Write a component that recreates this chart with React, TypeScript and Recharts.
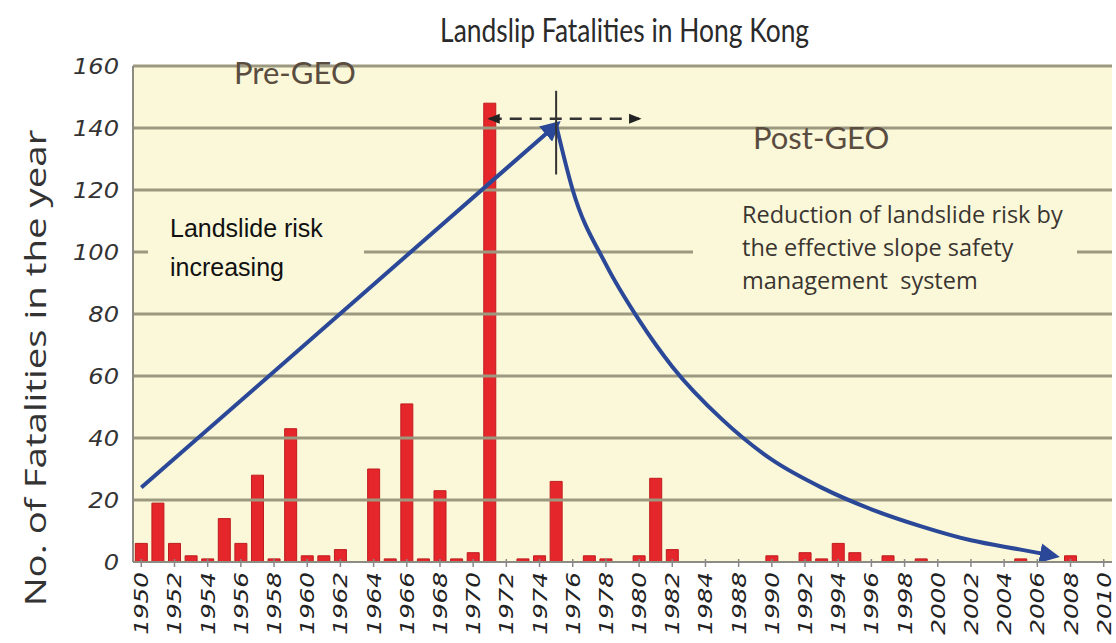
import React from "react";
import {
  ComposedChart,
  Bar,
  Line,
  XAxis,
  YAxis,
  ReferenceLine,
} from "recharts";

// x categories as printed on the original axis (one slot between 1984 and 1988)
const years = [
  "1950", "1951", "1952", "1953", "1954", "1955", "1956", "1957", "1958", "1959",
  "1960", "1961", "1962", "1963", "1964", "1965", "1966", "1967", "1968", "1969",
  "1970", "1971", "1972", "1973", "1974", "1975", "1976", "1977", "1978", "1979",
  "1980", "1981", "1982", "1983", "1984", "1986", "1988", "1989", "1990", "1991",
  "1992", "1993", "1994", "1995", "1996", "1997", "1998", "1999", "2000", "2001",
  "2002", "2003", "2004", "2005", "2006", "2007", "2008", "2009", "2010",
];

const fatalities = [
  6, 19, 6, 2, 1, 14, 6, 28, 1, 43,
  2, 2, 4, 0, 30, 1, 51, 1, 23, 1,
  3, 148, 0, 1, 2, 26, 0, 2, 1, 0,
  2, 27, 4, 0, 0, 0, 0, 0, 2, 0,
  3, 1, 6, 3, 0, 2, 0, 1, 0, 0,
  0, 0, 0, 1, 0, 0, 2, 0, 0,
];

// hand-read points of the two blue arrows
const riseYears = ["1950", "1975"];
const riseValues = [24, 141];
const fallYears = ["1975", "1976", "1978", "1980", "1982", "1986", "1990", "1993", "1996", "1999", "2002", "2005", "2007"];
const fallValues = [141, 120, 96, 78, 63, 46, 33, 24, 17, 11.5, 7, 4, 2];

const yTicks = [0, 20, 40, 60, 80, 100, 120, 140, 160];

const data = years.map((year, i) => {
  const r = riseYears.indexOf(year);
  const f = fallYears.indexOf(year);
  return {
    year,
    deaths: fatalities[i],
    rise: r >= 0 ? riseValues[r] : null,
    fall: f >= 0 ? fallValues[f] : null,
  };
});

const PLOT_BG = "#fbf8d9";
const GRID = "#9c9980";
const BLUE = "#2a4897";

const YearTick = (props: any) => {
  const { x, y, payload } = props;
  return (
    <g>
      <line x1={x} x2={x} y1={y - 11} y2={y - 3} stroke="#888" strokeWidth={1.5} />
      <text
        transform={`translate(${x + 7}, ${y + 2}) rotate(-90) scale(1.3, 1)`}
        textAnchor="end"
        fill="#222"
        fontSize={19}
        fontStyle="italic"
        fontFamily="DejaVu Sans, sans-serif"
      >
        {payload.value}
      </text>
    </g>
  );
};

const ValueTick = (props: any) => {
  const { x, y, payload } = props;
  return (
    <text
      transform={`translate(${x}, ${y + 8}) scale(1.15, 1)`}
      textAnchor="end"
      fill="#333"
      fontSize={21}
      fontStyle="italic"
      fontFamily="DejaVu Sans, sans-serif"
    >
      {payload.value}
    </text>
  );
};

export default function App() {
  return (
    <div
      style={{
        position: "absolute",
        left: 0,
        top: 0,
        width: 1116,
        height: 643,
        background: "#fff",
        overflow: "hidden",
      }}
    >
      <svg width={0} height={0} style={{ position: "absolute" }}>
        <defs>
          <marker id="blueHead" viewBox="0 0 10 10" refX="7" refY="5" markerWidth="5" markerHeight="5" orient="auto">
            <path d="M0,0 L10,5 L0,10 z" fill={BLUE} />
          </marker>
          <marker id="blackHead" viewBox="0 0 10 10" refX="8" refY="5" markerWidth="5" markerHeight="5" orient="auto-start-reverse">
            <path d="M0,1 L10,5 L0,9 z" fill="#222" />
          </marker>
        </defs>
      </svg>

      {/* plot background sits behind the transparent chart svg */}
      <div
        style={{
          position: "absolute",
          left: 133,
          top: 66,
          width: 979,
          height: 496,
          background: PLOT_BG,
        }}
      />

      <div style={{ position: "absolute", left: 0, top: 0 }}>
        <ComposedChart
          width={1116}
          height={643}
          data={data}
          margin={{ top: 66, right: 4, bottom: 0, left: 0 }}
          barCategoryGap="14%"
        >
          <XAxis
            dataKey="year"
            height={81}
            interval={1}
            tickLine={false}
            axisLine={{ stroke: "#8c8c84", strokeWidth: 2 }}
            tick={<YearTick />}
          />
          <YAxis
            yAxisId="left"
            width={133}
            domain={[0, 160]}
            ticks={yTicks}
            tickLine={false}
            tickSize={0}
            tickMargin={14}
            axisLine={{ stroke: "#8c8c84", strokeWidth: 2 }}
            tick={<ValueTick />}
          />
          <YAxis
            yAxisId="right"
            orientation="right"
            width={0}
            domain={[0, 160]}
            tick={false}
            tickLine={false}
            axisLine={{ stroke: "#8c8c84", strokeWidth: 2 }}
          />
          {yTicks.slice(1).map((v) => (
            <ReferenceLine
              key={`grid-${v}`}
              yAxisId="left"
              y={v}
              stroke={GRID}
              strokeWidth={3}
              ifOverflow="visible"
            />
          ))}
          <Bar
            yAxisId="left"
            dataKey="deaths"
            fill="#e5262a"
            stroke="#bf1c1f"
            strokeWidth={1}
            isAnimationActive={false}
          />
          <Line
            yAxisId="left"
            dataKey="rise"
            type="linear"
            stroke={BLUE}
            strokeWidth={4}
            dot={false}
            connectNulls
            markerEnd="url(#blueHead)"
            isAnimationActive={false}
          />
          <Line
            yAxisId="left"
            dataKey="fall"
            type="monotone"
            stroke={BLUE}
            strokeWidth={4}
            dot={false}
            connectNulls
            markerEnd="url(#blueHead)"
            isAnimationActive={false}
          />
          <ReferenceLine
            yAxisId="left"
            segment={[{ x: "1975", y: 125 }, { x: "1975", y: 152 }]}
            stroke="#333"
            strokeWidth={2}
          />
          <ReferenceLine
            yAxisId="left"
            segment={[{ x: "1971", y: 143 }, { x: "1980", y: 143 }]}
            stroke="#333"
            strokeWidth={2.5}
            strokeDasharray="12 8"
            markerStart="url(#blackHead)"
            markerEnd="url(#blackHead)"
          />
        </ComposedChart>
      </div>

      <div
        style={{
          position: "absolute",
          left: 0,
          width: 1250,
          top: 9,
          textAlign: "center",
          fontFamily: "Lato, sans-serif",
          fontSize: 33,
          color: "#2a2a2a",
        }}
      >
        <span style={{ display: "inline-block", transform: "scaleX(0.8)" }}>
          Landslip Fatalities in Hong Kong
        </span>
      </div>

      <div
        style={{
          position: "absolute",
          left: 34,
          top: 368,
          transform: "translate(-50%, -50%) rotate(-90deg) scaleX(1.28)",
          whiteSpace: "nowrap",
          fontFamily: "Open Sans, sans-serif",
          fontSize: 30,
          color: "#333",
        }}
      >
        No. of Fatalities in the year
      </div>

      <div
        style={{
          position: "absolute",
          left: 234,
          top: 53,
          fontFamily: "Lato, sans-serif",
          fontSize: 31,
          color: "#5a4d40",
        }}
      >
        Pre-GEO
      </div>
      <div
        style={{
          position: "absolute",
          left: 753,
          top: 118,
          fontFamily: "Lato, sans-serif",
          fontSize: 31,
          color: "#5a4d40",
        }}
      >
        Post-GEO
      </div>

      <div
        style={{
          position: "absolute",
          left: 148,
          top: 210,
          width: 216,
          height: 68,
          paddingLeft: 22,
          boxSizing: "border-box",
          background: PLOT_BG,
          fontFamily: "Liberation Sans, Arial, sans-serif",
          fontSize: 25,
          color: "#111",
        }}
      >
        <div style={{ lineHeight: "28px", marginTop: 4 }}>Landslide risk</div>
        <div style={{ lineHeight: "28px", marginTop: 11 }}>increasing</div>
      </div>

      <div
        style={{
          position: "absolute",
          left: 693,
          top: 196,
          width: 384,
          height: 102,
          padding: "2px 0 0 49px",
          boxSizing: "border-box",
          background: PLOT_BG,
          fontFamily: "Open Sans, sans-serif",
          fontSize: 23.5,
          lineHeight: "33px",
          color: "#3a3530",
        }}
      >
        <div>Reduction of landslide risk by</div>
        <div>the effective slope safety</div>
        <div>management&nbsp; system</div>
      </div>
    </div>
  );
}
